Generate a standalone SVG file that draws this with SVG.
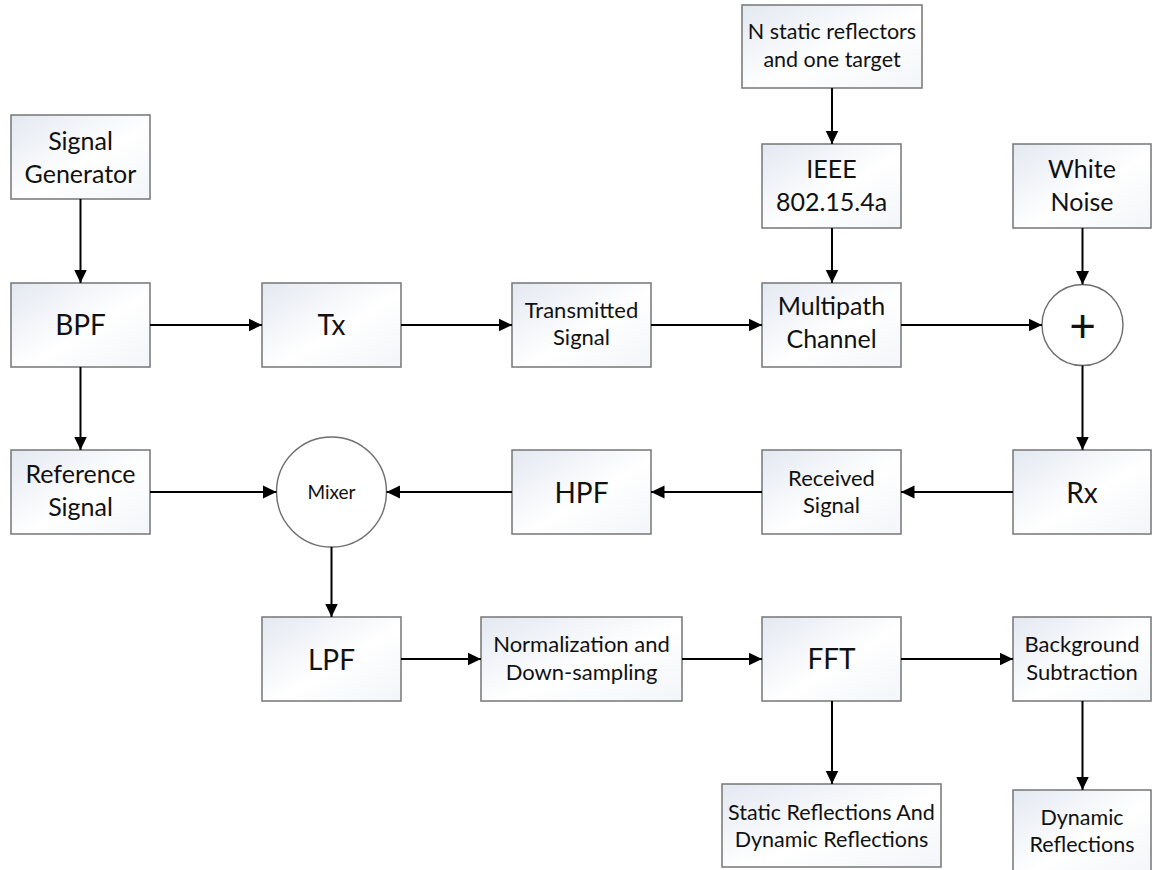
<svg xmlns="http://www.w3.org/2000/svg" width="1152" height="870" viewBox="0 0 1152 870">
  <defs>
    <linearGradient id="boxFill" x1="0" y1="0" x2="1" y2="1">
      <stop offset="0" stop-color="#e3e8f1"/>
      <stop offset="0.55" stop-color="#ffffff"/>
      <stop offset="1" stop-color="#f3f5f9"/>
    </linearGradient>
    <marker id="arrow" markerUnits="userSpaceOnUse" markerWidth="14" markerHeight="14" refX="13.5" refY="7" orient="auto">
      <path d="M0,0.5 L13.5,7 L0,13.5 z" fill="#000"/>
    </marker>
    <style>
      .box { fill: url(#boxFill); stroke: #767676; stroke-width: 1.5; }
      .circ { fill: #ffffff; stroke: #6e6e6e; stroke-width: 1.4; }
      text { font-family: Lato, "Liberation Sans", sans-serif; fill: #111; text-anchor: middle; }
      .big { font-size: 28px; }
      .mid { font-size: 25px; }
      .out { font-size: 21.5px; }
      .sm { font-size: 22px; }
      .xs { font-size: 19px; }
      .plus { font-size: 46px; }
      .conn line { stroke: #000; stroke-width: 2; marker-end: url(#arrow); }
    </style>
  </defs>
  <rect width="1152" height="870" fill="#ffffff"/>

  <!-- row 0: inputs -->
  <g id="signal-generator">
    <rect class="box" x="11" y="115" width="139" height="84"/>
    <text class="mid" x="80.5" y="150">Signal</text>
    <text class="mid" x="80.5" y="183">Generator</text>
  </g>
  <g id="reflectors">
    <rect class="box" x="742" y="5" width="180" height="83"/>
    <text class="out" x="832" y="39">N static reflectors</text>
    <text class="out" x="832" y="67">and one target</text>
  </g>
  <g id="ieee">
    <rect class="box" x="762" y="144" width="139" height="84"/>
    <text class="mid" x="831.5" y="178">IEEE</text>
    <text class="mid" x="831.5" y="211">802.15.4a</text>
  </g>
  <g id="white-noise">
    <rect class="box" x="1013" y="144" width="138" height="84"/>
    <text class="mid" x="1082" y="178">White</text>
    <text class="mid" x="1082" y="211">Noise</text>
  </g>

  <!-- row 1: transmit chain -->
  <g id="bpf">
    <rect class="box" x="11" y="283" width="139" height="84"/>
    <text class="big" x="80.5" y="335">BPF</text>
  </g>
  <g id="tx">
    <rect class="box" x="262" y="283" width="139" height="84"/>
    <text class="big" x="331.5" y="335">Tx</text>
  </g>
  <g id="transmitted-signal">
    <rect class="box" x="512" y="283" width="139" height="84"/>
    <text class="sm" x="581.5" y="318">Transmitted</text>
    <text class="sm" x="581.5" y="345">Signal</text>
  </g>
  <g id="multipath-channel">
    <rect class="box" x="762" y="283" width="139" height="84"/>
    <text class="mid" x="831.5" y="315">Multipath</text>
    <text class="mid" x="831.5" y="348">Channel</text>
  </g>
  <g id="adder">
    <circle class="circ" cx="1082.5" cy="325" r="40.5"/>
    <text class="plus" x="1082.5" y="342">+</text>
  </g>

  <!-- row 2: receive chain -->
  <g id="reference-signal">
    <rect class="box" x="11" y="450" width="139" height="84"/>
    <text class="mid" x="80.5" y="483">Reference</text>
    <text class="mid" x="80.5" y="516">Signal</text>
  </g>
  <g id="mixer">
    <circle class="circ" cx="331.5" cy="492" r="55"/>
    <text class="xs" x="331.5" y="499">Mixer</text>
  </g>
  <g id="hpf">
    <rect class="box" x="512" y="450" width="139" height="84"/>
    <text class="big" x="581.5" y="503">HPF</text>
  </g>
  <g id="received-signal">
    <rect class="box" x="762" y="450" width="139" height="84"/>
    <text class="sm" x="831.5" y="486">Received</text>
    <text class="sm" x="831.5" y="513">Signal</text>
  </g>
  <g id="rx">
    <rect class="box" x="1013" y="450" width="138" height="84"/>
    <text class="big" x="1082" y="503">Rx</text>
  </g>

  <!-- row 3: processing -->
  <g id="lpf">
    <rect class="box" x="262" y="617" width="139" height="84"/>
    <text class="big" x="331.5" y="670">LPF</text>
  </g>
  <g id="normalization">
    <rect class="box" x="481" y="617" width="201" height="84"/>
    <text class="sm" x="581.5" y="652">Normalization and</text>
    <text class="sm" x="581.5" y="680">Down-sampling</text>
  </g>
  <g id="fft">
    <rect class="box" x="762" y="617" width="139" height="84"/>
    <text class="big" x="831.5" y="669">FFT</text>
  </g>
  <g id="background-subtraction">
    <rect class="box" x="1013" y="617" width="138" height="84"/>
    <text class="sm" x="1082" y="652">Background</text>
    <text class="sm" x="1082" y="680">Subtraction</text>
  </g>

  <!-- row 4: outputs -->
  <g id="static-dynamic-reflections">
    <rect class="box" x="722" y="784" width="219" height="83"/>
    <text class="out" x="831.5" y="820">Static Reflections And</text>
    <text class="out" x="831.5" y="847">Dynamic Reflections</text>
  </g>
  <g id="dynamic-reflections">
    <rect class="box" x="1013" y="790" width="138" height="84"/>
    <text class="out" x="1082" y="825">Dynamic</text>
    <text class="out" x="1082" y="852">Reflections</text>
  </g>

  <!-- connectors -->
  <g class="conn" id="connectors">
    <line x1="80.5" y1="199" x2="80.5" y2="283"/>
    <line x1="150" y1="325" x2="262" y2="325"/>
    <line x1="401" y1="325" x2="512" y2="325"/>
    <line x1="651" y1="325" x2="762" y2="325"/>
    <line x1="901" y1="325" x2="1042" y2="325"/>
    <line x1="832" y1="88" x2="832" y2="144"/>
    <line x1="832" y1="228" x2="832" y2="283"/>
    <line x1="1082.5" y1="228" x2="1082.5" y2="284.5"/>
    <line x1="1082.5" y1="365.5" x2="1082.5" y2="450"/>
    <line x1="1013" y1="492" x2="901" y2="492"/>
    <line x1="762" y1="492" x2="651" y2="492"/>
    <line x1="512" y1="492" x2="386.5" y2="492"/>
    <line x1="80.5" y1="367" x2="80.5" y2="450"/>
    <line x1="150" y1="492" x2="276.5" y2="492"/>
    <line x1="331.5" y1="547" x2="331.5" y2="617"/>
    <line x1="401" y1="659" x2="481" y2="659"/>
    <line x1="682" y1="659" x2="762" y2="659"/>
    <line x1="901" y1="659" x2="1013" y2="659"/>
    <line x1="832" y1="701" x2="832" y2="784"/>
    <line x1="1082.5" y1="701" x2="1082.5" y2="790"/>
  </g>
</svg>
